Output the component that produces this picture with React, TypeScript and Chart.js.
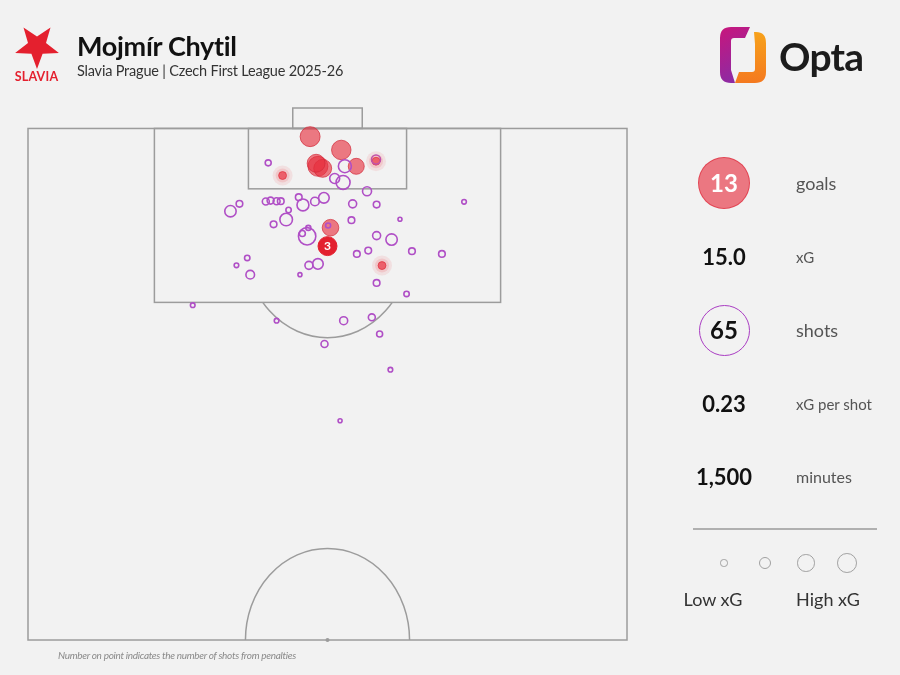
import React, { useEffect, useRef } from "react";
import { Chart, registerables } from "chart.js";

Chart.register(...registerables);

// Pitch coordinates: x = across the pitch (0-100, left to right),
// y = distance from the goal line (Opta units, 0 = goal line, 50 = halfway line)
const goalX = [47.1, 52.3, 48.4, 49.2, 48.1, 54.8, 50.5];
const goalY = [0.8, 2.1, 3.7, 3.9, 3.4, 3.7, 9.7];
const goalXg = [0.56, 0.53, 0.56, 0.44, 0.44, 0.34, 0.37];

const lowGoalX = [42.5, 58.1, 59.1];
const lowGoalY = [4.6, 3.2, 13.4];
const lowGoalXg = [0.06, 0.06, 0.06];

const penaltyX = [50];
const penaltyY = [11.5];
const penaltyXg = [0.5];
const penaltyCount = [3];

const shotX = [
  40.1, 58.1, 52.9, 51.2, 52.6, 56.6, 33.8, 35.3, 39.7, 40.5,
  41.5, 42.2, 45.2, 45.9, 47.9, 49.4, 54.2, 58.2, 72.8, 43.5,
  43.1, 41.0, 54.0, 62.1, 46.6, 45.8, 46.8, 58.2, 60.7, 64.1,
  69.1, 54.9, 56.8, 36.6, 34.8, 37.1, 46.9, 48.4, 45.4, 58.2,
  63.2, 27.5, 41.5, 52.7, 57.4, 58.7, 49.5, 60.5, 52.1, 50.1,
];
const shotY = [
  3.36, 3.03, 3.69, 4.89, 5.28, 6.14, 8.09, 7.37, 7.14, 7.05,
  7.11, 7.11, 6.72, 7.47, 7.14, 6.78, 7.37, 7.44, 7.17, 7.97,
  8.9, 9.37, 8.97, 8.87, 10.54, 10.27, 9.72, 10.47, 10.86, 12.0,
  12.26, 12.26, 11.94, 12.65, 13.38, 14.29, 13.38, 13.24, 14.29, 15.1,
  16.17, 17.27, 18.79, 18.79, 18.46, 20.09, 21.07, 23.58, 28.57, 9.49,
];
const shotXg = [
  0.028, 0.085, 0.21, 0.11, 0.25, 0.085, 0.153, 0.037, 0.043, 0.043,
  0.043, 0.037, 0.037, 0.17, 0.076, 0.128, 0.0625, 0.037, 0.012, 0.02,
  0.195, 0.037, 0.037, 0.007, 0.41, 0.028, 0.016, 0.0625, 0.153, 0.037,
  0.037, 0.037, 0.037, 0.02, 0.012, 0.076, 0.0625, 0.128, 0.007, 0.037,
  0.02, 0.012, 0.012, 0.0625, 0.043, 0.028, 0.043, 0.012, 0.007, 0.016,
];

const statValues = ["13", "15.0", "65", "0.23", "1,500"];
const statLabels = ["goals", "xG", "shots", "xG per shot", "minutes"];
const legendXg = [0.05, 0.2, 0.42, 0.55];
const legendLabels = ["Low xG", "High xG"];

const playerName = "Mojmír Chytil";
const subtitle = "Slavia Prague | Czech First League 2025-26";
const footnote = "Number on point indicates the number of shots from penalties";

const FONT = "Lato, 'Noto Sans', sans-serif";
const RING = "#b04fc6";

const rFromXg = (xg: number) => 1 + 12 * Math.sqrt(xg);
const pts = (xs: number[], ys: number[]) => xs.map((x, i) => ({ x, y: ys[i] }));

const pitchPlugin = {
  id: "pitch",
  beforeDatasetsDraw(chart: any) {
    const { ctx } = chart;
    const sx = chart.scales.x;
    const sy = chart.scales.y;
    const X = (v: number) => sx.getPixelForValue(v);
    const Y = (v: number) => sy.getPixelForValue(v);
    ctx.save();
    ctx.strokeStyle = "#9c9c9c";
    ctx.lineWidth = 1.5;
    const rect = (x0: number, y0: number, x1: number, y1: number) =>
      ctx.strokeRect(X(x0), Y(y0), X(x1) - X(x0), Y(y1) - Y(y0));
    rect(0, 0, 100, 50);
    rect(21.1, 0, 78.9, 17);
    rect(36.8, 0, 63.2, 5.9);
    rect(44.2, -2, 55.8, 0);
    const rx = X(13.7) - X(0);
    const ry = Y(8.95) - Y(0);
    // penalty arc
    ctx.save();
    ctx.beginPath();
    ctx.rect(X(0), Y(17), X(100) - X(0), Y(50) - Y(17));
    ctx.clip();
    ctx.beginPath();
    ctx.ellipse(X(50), Y(11.5), rx, ry, 0, 0, Math.PI * 2);
    ctx.stroke();
    ctx.restore();
    // centre circle
    ctx.beginPath();
    ctx.ellipse(X(50), Y(50), rx, ry, 0, Math.PI, Math.PI * 2);
    ctx.stroke();
    ctx.beginPath();
    ctx.fillStyle = "#9c9c9c";
    ctx.arc(X(50), Y(50), 2, 0, Math.PI * 2);
    ctx.fill();
    ctx.restore();
  },
  afterDatasetsDraw(chart: any) {
    const idx = chart.data.datasets.findIndex((d: any) => d.label === "Penalties");
    if (idx < 0) return;
    const meta = chart.getDatasetMeta(idx);
    const { ctx } = chart;
    ctx.save();
    ctx.fillStyle = "#ffffff";
    ctx.font = `bold 12px ${FONT}`;
    ctx.textAlign = "center";
    ctx.textBaseline = "middle";
    meta.data.forEach((el: any, i: number) => {
      ctx.fillText(String(penaltyCount[i]), el.x, el.y + 0.5);
    });
    ctx.restore();
  },
};

function starPoints(cx: number, cy: number, R: number, r: number) {
  const out: string[] = [];
  for (let i = 0; i < 10; i++) {
    const a = Math.PI / 2 + (i * Math.PI) / 5;
    const rad = i % 2 === 0 ? R : r;
    out.push(`${(cx + rad * Math.cos(a)).toFixed(1)},${(cy + rad * Math.sin(a)).toFixed(1)}`);
  }
  return out.join(" ");
}

const abs = (style: React.CSSProperties): React.CSSProperties => ({ position: "absolute", ...style });

export default function App() {
  const canvasRef = useRef<HTMLCanvasElement | null>(null);

  useEffect(() => {
    document.body.style.margin = "0";
    document.body.style.background = "#f2f2f2";
    const canvas = canvasRef.current;
    if (!canvas) return;
    const chart = new Chart(canvas, {
      type: "scatter",
      data: {
        datasets: [
          {
            label: "Glow outer",
            data: pts(lowGoalX, lowGoalY),
            pointRadius: 10,
            pointBackgroundColor: "rgba(236,90,100,0.12)",
            pointBorderWidth: 0,
            pointBorderColor: "rgba(0,0,0,0)",
          },
          {
            label: "Glow inner",
            data: pts(lowGoalX, lowGoalY),
            pointRadius: 7,
            pointBackgroundColor: "rgba(236,90,100,0.18)",
            pointBorderWidth: 0,
            pointBorderColor: "rgba(0,0,0,0)",
          },
          {
            label: "Shots",
            data: pts(shotX, shotY),
            pointRadius: (c: any) => rFromXg(shotXg[c.dataIndex]),
            pointBackgroundColor: "rgba(0,0,0,0)",
            pointBorderColor: RING,
            pointBorderWidth: 1.6,
          },
          {
            label: "Goals",
            data: pts(goalX, goalY),
            pointRadius: (c: any) => rFromXg(goalXg[c.dataIndex]),
            pointBackgroundColor: "rgba(230,45,60,0.62)",
            pointBorderColor: "rgba(210,40,55,0.7)",
            pointBorderWidth: 1,
          },
          {
            label: "Low xG goals",
            data: pts(lowGoalX, lowGoalY),
            pointRadius: (c: any) => rFromXg(lowGoalXg[c.dataIndex]),
            pointBackgroundColor: "rgba(232,50,65,0.75)",
            pointBorderColor: "rgba(220,40,55,0.8)",
            pointBorderWidth: 1,
          },
          {
            label: "Penalties",
            data: pts(penaltyX, penaltyY),
            pointRadius: (c: any) => rFromXg(penaltyXg[c.dataIndex]),
            pointBackgroundColor: "#e3202f",
            pointBorderColor: "#e3202f",
            pointBorderWidth: 1,
          },
        ],
      },
      options: {
        responsive: false,
        animation: false,
        events: [],
        layout: { padding: { left: 28, right: 273, top: 108, bottom: 35 } },
        scales: {
          x: { type: "linear", min: 0, max: 100, display: false },
          y: { type: "linear", min: -2, max: 50, reverse: true, display: false },
        },
        plugins: { legend: { display: false }, tooltip: { enabled: false } },
        datasets: { scatter: { clip: false } as any },
      } as any,
      plugins: [pitchPlugin],
    });
    return () => chart.destroy();
  }, []);

  const statY = [183, 257, 330, 404, 477];
  const labelSizes = [18, 15, 18, 15, 16];
  const legendCx = [724, 765, 806, 847];

  return (
    <div style={{ position: "fixed", left: 0, top: 0, width: 900, height: 675, background: "#f2f2f2", overflow: "hidden", fontFamily: FONT }}>
      <canvas ref={canvasRef} width={900} height={675} style={{ position: "absolute", left: 0, top: 0, width: 900, height: 675 }} />

      {/* Club badge */}
      <svg width={70} height={90} style={abs({ left: 0, top: 0 })}>
        <polygon points={starPoints(37, 46, 23, 9.5)} fill="#e4202e" />
      </svg>
      <div style={abs({ left: 0, width: 73, top: 69, textAlign: "center", color: "#e4202e", fontWeight: 700, fontSize: 12.5, letterSpacing: 0.2 })}>SLAVIA</div>

      {/* Title */}
      <div style={abs({ left: 77, top: 29, fontSize: 27, fontWeight: 700, color: "#111", whiteSpace: "nowrap", letterSpacing: -0.3 })}>{playerName}</div>
      <div style={abs({ left: 77, top: 62, fontSize: 14.5, color: "#333", whiteSpace: "nowrap", letterSpacing: -0.2 })}>{subtitle}</div>

      {/* Opta logo */}
      <svg width={60} height={70} style={abs({ left: 712, top: 20 })}>
        <defs>
          <linearGradient id="optaL" x1="0" y1="0" x2="0.3" y2="1">
            <stop offset="0" stopColor="#c8167c" />
            <stop offset="1" stopColor="#8e2aa3" />
          </linearGradient>
          <linearGradient id="optaR" x1="0" y1="0" x2="0" y2="1">
            <stop offset="0" stopColor="#f7a21b" />
            <stop offset="1" stopColor="#f4791f" />
          </linearGradient>
        </defs>
        <path d="M19,7 L38,7 L33,18 L22,18 Q19,18 19,21 L19,50 L23,63 L19,63 Q8,63 8,52 L8,18 Q8,7 19,7 Z" fill="url(#optaL)" />
        <path d="M42,12 L44,12 Q54,12 54,23 L54,52 Q54,63 43,63 L23,63 L27,52 L40,52 Q43,52 43,49 L43,24 Z" fill="url(#optaR)" />
      </svg>
      <div style={abs({ left: 779, top: 33, fontSize: 39, fontWeight: 700, color: "#1c1c1c", letterSpacing: -0.8 })}>Opta</div>

      {/* Stats */}
      <div style={abs({ left: 698, top: statY[0] - 26, width: 52, height: 52, borderRadius: "50%", background: "rgba(232,60,75,0.68)", border: "1.5px solid rgba(225,60,75,0.85)", boxSizing: "border-box" })} />
      <div style={abs({ left: 699, top: statY[2] - 25.5, width: 51, height: 51, borderRadius: "50%", border: `1.6px solid #a93cc2`, boxSizing: "border-box" })} />
      {statValues.map((v, i) => (
        <div key={"v" + i} style={abs({ left: 664, width: 120, top: statY[i] - 15, height: 30, lineHeight: "30px", textAlign: "center", fontSize: i === 0 || i === 2 ? 24 : 22, fontWeight: 700, color: i === 0 ? "#fff" : "#111" })}>{v}</div>
      ))}
      {statLabels.map((l, i) => (
        <div key={"l" + i} style={abs({ left: 796, top: statY[i] - 13, height: 26, lineHeight: "26px", fontSize: labelSizes[i], color: "#555", whiteSpace: "nowrap" })}>{l}</div>
      ))}
      <div style={abs({ left: 693, top: 528, width: 184, height: 1.5, background: "#b0b0b0" })} />
      {legendXg.map((xg, i) => {
        const r = rFromXg(xg);
        return (
          <div key={"c" + i} style={abs({ left: legendCx[i] - r, top: 563 - r, width: 2 * r, height: 2 * r, borderRadius: "50%", border: "1.5px solid #a0a0a0", boxSizing: "border-box" })} />
        );
      })}
      <div style={abs({ left: 653, width: 120, top: 588, textAlign: "center", fontSize: 18, color: "#333" })}>{legendLabels[0]}</div>
      <div style={abs({ left: 768, width: 120, top: 588, textAlign: "center", fontSize: 18, color: "#333" })}>{legendLabels[1]}</div>

      {/* Footnote */}
      <div style={abs({ left: 58, top: 649, fontSize: 10, fontStyle: "italic", color: "#8a8a8a", whiteSpace: "nowrap", letterSpacing: -0.3 })}>{footnote}</div>
    </div>
  );
}
